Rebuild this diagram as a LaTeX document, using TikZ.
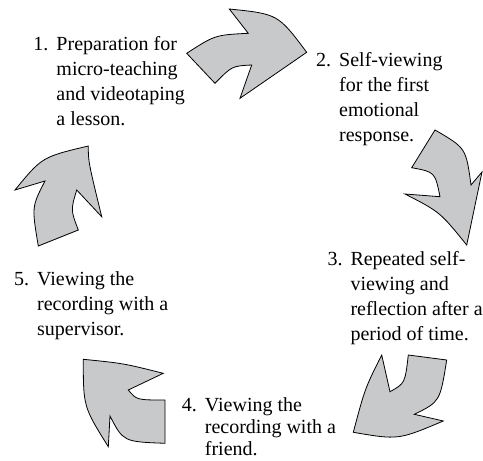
\documentclass[tikz,border=0pt]{standalone}
\usepackage{fontspec}
\setmainfont{Liberation Serif}
\newcommand\numbox[1]{\makebox[23pt][l]{#1}}
\newcommand\indbox{\hspace*{23pt}}
\begin{document}
\begin{tikzpicture}[x=1pt,y=-1pt,
  arrowshape/.style={draw=black,line width=0.8pt,fill=arrowgray,line join=miter},
  steptext/.style={anchor=base west,inner sep=0pt,align=left,
    font=\fontsize{20}{25}\selectfont}]
\definecolor{arrowgray}{HTML}{C8C9CB}
\useasboundingbox (0,0) rectangle (483,461);
% arrow 1 (top)
\draw[arrowshape] (186.7,53.3) .. controls (215,35) .. (248.3,33.3) -- (229.3,9)
  .. controls (278,14) .. (306.7,52.3) -- (240,98.3) -- (251.7,65)
  .. controls (232,66) .. (215,83.3) -- cycle;
% arrow 2 (right)
\draw[arrowshape] (435,130) -- (411.7,167.7) .. controls (435,172) .. (440,196.7)
  -- (405,194) .. controls (440,212) .. (466.7,245) -- (482,172) -- (471,185)
  .. controls (466,148) .. cycle;
% arrow 3 (bottom right)
\draw[arrowshape] (408.3,355) -- (446.7,360) .. controls (440,401.7) .. (414.3,414.3)
  -- (443.3,421) .. controls (398.3,440) .. (353.3,432.3)
  .. controls (365,388.3) .. (381.7,355) -- (390,391.7)
  .. controls (405,383.3) .. cycle;
% arrow 4 (bottom left)
\draw[arrowshape] (165,400) .. controls (136.7,400) .. (128.3,390) -- (163.3,373.3)
  .. controls (123.3,363.3) .. (83.3,359.3) .. controls (83.3,406.7) .. (108.3,446.7)
  -- (110,416) .. controls (123.3,441.7) .. (165,443.3) -- cycle;
% arrow 5 (left)
\draw[arrowshape] (88.3,146) .. controls (42,157) .. (15,190) -- (45,181)
  .. controls (31.7,206.7) .. (38.3,246) -- (78.3,230) .. controls (70.7,210) .. (76.7,190)
  -- (101.7,216.7) .. controls (88.3,161.7) .. cycle;
% texts (anchor at the baseline of the last line)
\node[steptext] (t1) at (33.3,125.5) {\numbox{1.}Preparation for\\\indbox micro-teaching\\\indbox and videotaping\\\indbox a lesson.};
\node[steptext] (t2) at (316,141) {\numbox{2.}Self-viewing\\\indbox for the first\\\indbox emotional\\\indbox response.};
\node[steptext] (t3) at (327.3,340) {\numbox{3.}Repeated self-\\\indbox viewing and\\\indbox reflection after a\\\indbox period of time.};
\node[steptext,font=\fontsize{20}{22}\selectfont] (t4) at (181.7,455) {\numbox{4.}Viewing the\\\indbox recording with a\\\indbox friend.};
\node[steptext] (t5) at (14,335) {\numbox{5.}Viewing the\\\indbox recording with a\\\indbox supervisor.};
\end{tikzpicture}
\end{document}
